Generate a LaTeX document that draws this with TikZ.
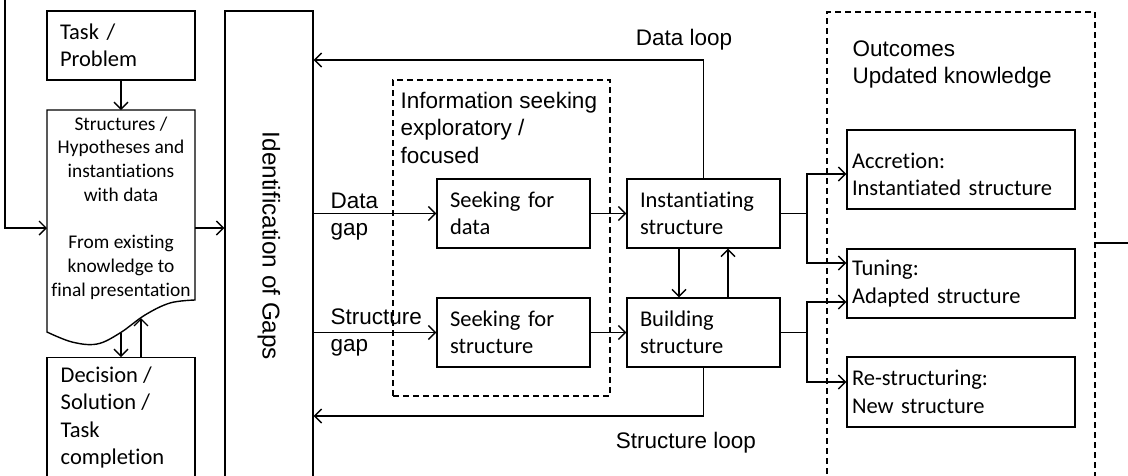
\documentclass[tikz,border=0pt]{standalone}
\usepackage{fontspec}
\setmainfont{Carlito}[Ligatures=NoCommon]
\newfontfamily\arialfont{Liberation Sans}
\usetikzlibrary{arrows.meta}
\newcommand\boxfont{\fontsize{22.5}{27.5}\selectfont}
\newcommand\smallboxfont{\fontsize{19.4}{23.7}\selectfont}
\newcommand\labelfont{\arialfont\fontsize{22.5}{27.5}\selectfont}
\newcommand\gapsfont{\arialfont\fontsize{24.3}{29}\selectfont}
% raises the height of a first line so the text block sits a little lower
\newcommand\topstrut{\rule{0pt}{25pt}}

\begin{document}
\begin{tikzpicture}[x=1pt,y=-1pt, line width=1.4pt,
  box/.style={draw, inner xsep=13pt, inner ysep=0pt, align=left, font=\boxfont},
  obox/.style={box, inner xsep=5pt, text width=218pt, minimum width=228pt},
  frame/.style={draw, dash pattern=on 6pt off 4pt, line width=1.2pt},
  arr/.style={-{Straight Barb[length=7pt,width=14pt]}},
  lbl/.style={font=\labelfont, inner sep=0pt, align=left}]

\useasboundingbox (0,0) rectangle (1128,475);
\clip (0,0) rectangle (1128,475);

% left column
\node[box, text width=122pt, minimum height=69pt] (task) at (121,45.5) {Task /\\Problem};

\draw (47,110) -- (195,110) -- (195,300)
  -- plot[smooth, tension=0.6] coordinates {(195,300) (170,303) (145,315) (120,333) (97,344) (72,342) (47,332)}
  -- cycle;
\node[font=\smallboxfont, align=center, inner sep=0pt] (hyp) at (121,208)
  {Structures /\\Hypotheses and\\instantiations\\with data\\[23.7pt]From existing\\knowledge to\\final presentation};
\coordinate (hypL) at (47,228);
\coordinate (hypR) at (195,228);
\coordinate (hypT) at (121,110);
\coordinate (waveA) at (121,333);
\coordinate (waveB) at (141,318);

\node[draw, minimum width=148pt, minimum height=140pt, anchor=north, inner sep=0pt] (dec) at (121,357) {};
\node[anchor=north west, font=\boxfont, align=left, inner sep=0pt] (dectext) at (60,366)
  {Decision /\\Solution /\\Task\\completion};

% gap identification column
\node[draw, minimum width=88pt, minimum height=490pt, inner sep=0pt] (ident) at (269,256) {};
\node[rotate=-90, font=\gapsfont, inner sep=0pt] (identtext) at (269,246) {Identification of Gaps};

% information seeking
\node[frame, minimum width=217pt, minimum height=316pt] (info) at (501.5,238) {};
\node[lbl, anchor=west] (infotext) at (400,127.5) {Information seeking\\exploratory /\\focused};
\node[box, text width=127pt, minimum height=69pt] (sdata) at (513.5,213.5) {Seeking for\\data};
\node[box, text width=127pt, minimum height=69pt] (sstruct) at (513.5,332.5) {Seeking for\\structure};

% structure work
\node[box, text width=127pt, minimum height=69pt] (inst) at (703.5,213.5) {Instantiating\\structure};
\node[box, text width=127pt, minimum height=69pt] (build) at (703.5,332.5) {Building\\structure};

% outcomes
\node[frame, minimum width=268pt, minimum height=488pt] (outc) at (961,256) {};
\node[lbl, anchor=west] (outtext) at (852,64.5) {Outcomes\\Updated knowledge};
\node[obox, minimum height=79pt] (accr) at (961,169.5) {\topstrut Accretion:\\Instantiated structure};
\node[obox, minimum height=69pt] (tune) at (961,283.5) {Tuning:\\Adapted structure};
\node[obox, minimum height=70pt] (restr) at (961,392) {Re-structuring:\\New structure};

% labels
\node[lbl] (dlab) at (684,40) {Data loop};
\node[lbl] (slab) at (686,443) {Structure loop};
\node[lbl, anchor=west] (dgap) at (330,216.5) {Data\\gap};
\node[lbl, anchor=west] (sgap) at (330,332.5) {Structure\\gap};

% connectors
\coordinate (lt) at (5,-10);
\draw[arr] (lt) |- (hypL);
\draw[arr] (task.south) -- (hypT);
\draw[arr] (hypR) -- (hypR -| ident.west);
\draw[arr] (waveA) -- (waveA |- dec.north);
\draw[arr] (waveB |- dec.north) -- (waveB);

\draw[arr] (sdata.west -| ident.east) -- (sdata.west);
\draw[arr] (sstruct.west -| ident.east) -- (sstruct.west);
\draw[arr] (sdata.east) -- (inst.west);
\draw[arr] (sstruct.east) -- (build.west);
\draw[arr] ([xshift=-24.5pt]inst.south) -- ([xshift=-24.5pt]build.north);
\draw[arr] ([xshift=24.5pt]build.north) -- ([xshift=24.5pt]inst.south);

\coordinate (dl) at (0,60);
\draw[arr] (inst.north) -- (inst.north |- dl) -- (ident.east |- dl);
\coordinate (sl) at (0,416);
\draw[arr] (build.south) -- (build.south |- sl) -- (ident.east |- sl);

\coordinate (j1) at (807,213.5);
\coordinate (j2) at (807,332.5);
\draw (inst.east) -- (j1);
\draw[arr] (j1) |- ([yshift=-4.5pt]accr.west);
\draw[arr] (j1) |- ([yshift=20.5pt]tune.west);
\draw (build.east) -- (j2);
\draw[arr] (j2) |- ([yshift=-18.5pt]tune.west);
\draw[arr] (j2) |- ([yshift=10pt]restr.west);

\coordinate (rs) at (1140,243);
\draw (outc.east |- rs) -- (rs);
\end{tikzpicture}
\end{document}
